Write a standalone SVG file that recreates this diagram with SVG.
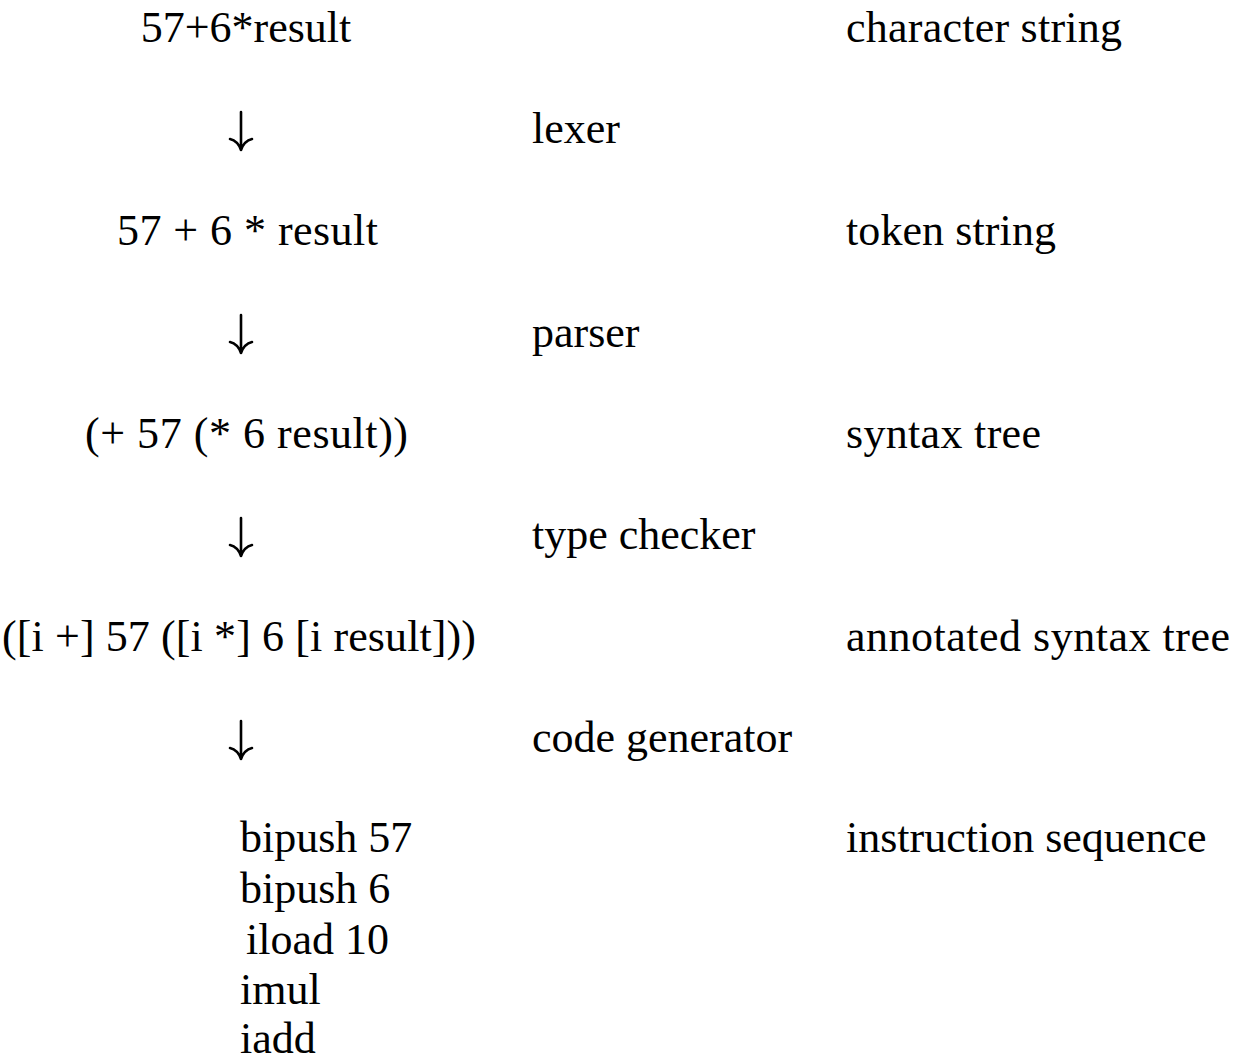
<svg xmlns="http://www.w3.org/2000/svg" width="1240" height="1061" viewBox="0 0 1240 1061">
<style>
text{font-family:"Liberation Serif","DejaVu Serif",serif;font-size:44px;fill:#000}
.c{text-anchor:middle}
.arr{fill:none;stroke:#000;stroke-width:2.6;stroke-linecap:round;stroke-linejoin:round}
</style>
<defs>
<g id="down"><path class="arr" d="M0,0 V38 M-11,27 Q-3,29 0,38 Q3,29 11,27"/></g>
</defs>
<rect width="1240" height="1061" fill="#fff"/>
<g id="n-char"><text class="c" x="246" y="42">57+6*result</text></g>
<g id="n-token"><text class="c" x="247.5" y="245" xml:space="preserve" textLength="261" lengthAdjust="spacing">57 + 6 * result</text></g>
<g id="n-syntax"><text class="c" x="246.5" y="448" textLength="323" lengthAdjust="spacing">(+ 57 (* 6 result))</text></g>
<g id="n-annot"><text class="c" x="239" y="651" textLength="474" lengthAdjust="spacing">([i +] 57 ([i *] 6 [i result]))</text></g>
<g id="n-code">
<text x="240" y="852">bipush 57</text>
<text x="240" y="903">bipush 6</text>
<text x="246" y="954">iload 10</text>
<text x="240" y="1004">imul</text>
<text x="240" y="1053">iadd</text>
</g>
<g id="stages">
<text x="532" y="143">lexer</text>
<text x="532" y="347">parser</text>
<text x="532" y="549">type checker</text>
<text x="532" y="752">code generator</text>
</g>
<g id="kinds">
<text x="846" y="42" textLength="276" lengthAdjust="spacing">character string</text>
<text x="846" y="245" textLength="210" lengthAdjust="spacing">token string</text>
<text x="846" y="448" textLength="195" lengthAdjust="spacing">syntax tree</text>
<text x="846" y="651" textLength="384" lengthAdjust="spacing">annotated syntax tree</text>
<text x="846" y="852">instruction sequence</text>
</g>
<g id="connectors">
<use href="#down" x="241" y="112"/>
<use href="#down" x="241" y="315"/>
<use href="#down" x="241" y="518"/>
<use href="#down" x="241" y="721"/>
</g>
</svg>
